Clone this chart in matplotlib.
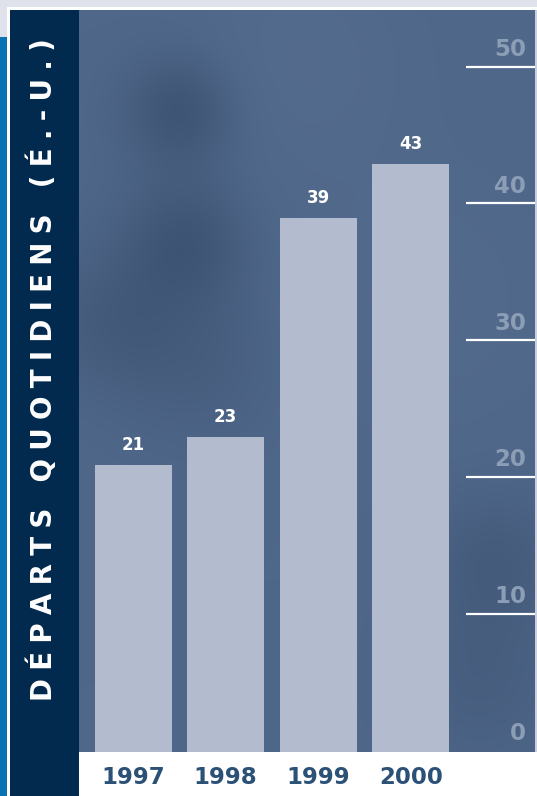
import matplotlib.pyplot as plt
import numpy as np
from matplotlib.patches import Rectangle
from matplotlib.transforms import blended_transform_factory

years = ['1997', '1998', '1999', '2000']
departs = [21, 23, 39, 43]
yticks = [0, 10, 20, 30, 40, 50]
ylabel = 'DÉPARTS QUOTIDIENS (É.-U.)'

W, H = 537, 796


def fx(px):
    return px / W


def fy(py):
    return 1 - py / H


fig = plt.figure(figsize=(W / 100, H / 100), dpi=100)
fig.patch.set_facecolor('white')

# frame pieces around the panel
fig.add_artist(Rectangle((0, fy(6.5)), 1, 6.5 / H, transform=fig.transFigure,
                         color='#dfe2ea', lw=0))
fig.add_artist(Rectangle((0, fy(37)), fx(7), 37 / H, transform=fig.transFigure,
                         color='#dfe2ea', lw=0))
fig.add_artist(Rectangle((0, 0), fx(6.5), fy(37), transform=fig.transFigure,
                         color='#0b71b5', lw=0))
fig.add_artist(Rectangle((fx(535), fy(752)), fx(2), 742 / H, transform=fig.transFigure,
                         color='#c9cfdc', lw=0))
fig.add_artist(Rectangle((fx(10), 0), fx(69), fy(10), transform=fig.transFigure,
                         color='#022a4e', lw=0))

ax = fig.add_axes([fx(79), fy(752), fx(535) - fx(79), fy(10) - fy(752)])
ax.set_facecolor('#4f6789')

step = 92.6
xlim = (-(133 - 79) / step, (535 - 133) / step)
ylim = (-0.1, (752 - 10) / 13.68 - 0.1)
ax.set_xlim(*xlim)
ax.set_ylim(*ylim)

# soft cloudy shading behind the bars
gx, gy = np.meshgrid(np.linspace(79, 535, 300), np.linspace(10, 752, 480))
shade = np.zeros_like(gx)
for cx, cy, r, a in [(180, 110, 40, 0.9), (185, 240, 45, 0.8), (110, 320, 50, 0.5),
                     (200, 360, 60, 0.4), (495, 560, 50, 0.5), (480, 680, 60, 0.4),
                     (300, 60, 80, -0.3), (420, 300, 90, -0.25)]:
    shade += a * np.exp(-((gx - cx) ** 2 + (gy - cy) ** 2) / (2 * r ** 2))
base = np.array([0x4f, 0x67, 0x89]) / 255
dark = np.array([0x3c, 0x52, 0x72]) / 255
light = np.array([0x5d, 0x74, 0x95]) / 255
t = np.clip(shade, -1, 1)[..., None]
img = np.where(t > 0, base + (dark - base) * t, base + (light - base) * (-t))
ax.imshow(img, extent=(*xlim, *ylim), aspect='auto', zorder=0, origin='upper')

x = np.arange(len(years))
bars = ax.bar(x, departs, width=77 / step, bottom=ylim[0], color='#b3bccf', zorder=2)
for xi, v in zip(x, departs):
    ax.annotate(str(v), (xi, v), xytext=(0, 7), textcoords='offset points',
                ha='center', va='bottom', color='white', fontsize=12,
                fontweight='bold', zorder=3)

# scale on the right side
tr = blended_transform_factory(ax.transAxes, ax.transData)
x0 = (466 - 79) / (535 - 79)
for tk in yticks:
    if tk > 0:
        ax.plot([x0, 1], [tk, tk], color='white', lw=1.6, transform=tr,
                solid_capstyle='butt', zorder=3, clip_on=False)
    ax.annotate(str(tk), (0.98, tk), xycoords=tr, xytext=(0, 4),
                textcoords='offset points', ha='right', va='bottom',
                color='#8c9db6', fontsize=16.5, fontweight='bold', zorder=3)

ax.set_xticks(x, years)
ax.tick_params(axis='x', length=0, pad=10, labelsize=16.5, labelcolor='#2c5176')
for lb in ax.get_xticklabels():
    lb.set_fontweight('bold')
ax.set_yticks([])
for s in ax.spines.values():
    s.set_visible(False)

fig.text(fx(43), fy(370), '\u2009\u200a'.join(ylabel), rotation=90, ha='center',
         va='center', color='white', fontsize=20, fontweight='bold')

fig.savefig('out.png', dpi=100)
